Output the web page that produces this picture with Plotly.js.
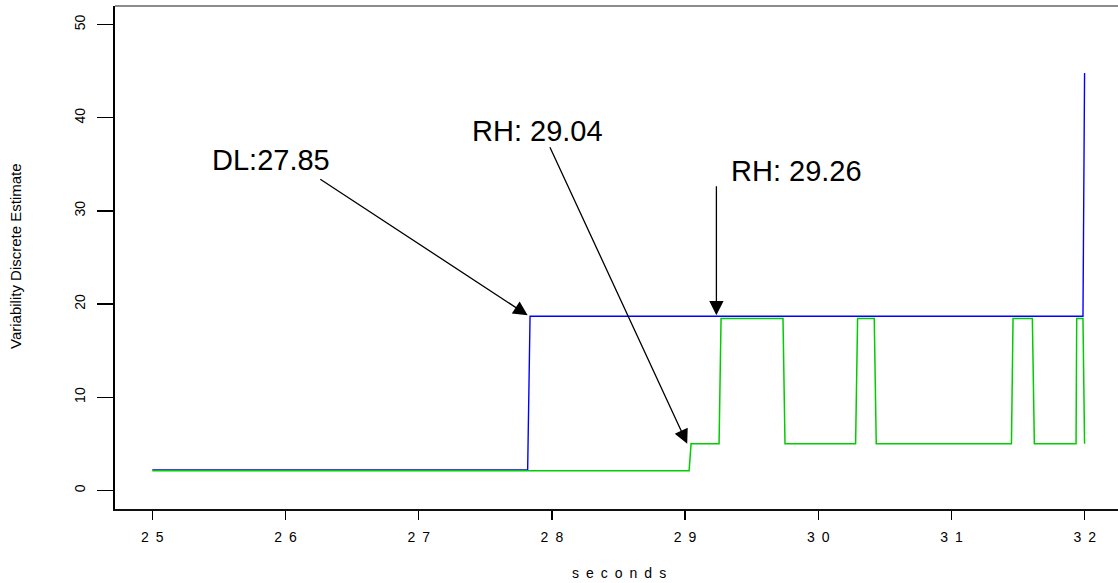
<!DOCTYPE html>
<html>
<head>
<meta charset="utf-8">
<script src="https://cdn.plot.ly/plotly-3.0.1.min.js"></script>
<style>
  html, body { margin: 0; padding: 0; overflow: hidden; background: #fff; }
  #chart { width: 1122px; height: 583px; }
</style>
</head>
<body>
<div id="chart"></div>
<script>
// Variability estimates over time (seconds)
const blueTime  = [25.0, 27.818, 27.836, 31.987, 31.999];
const blueValue = [2.2, 2.2, 18.7, 18.7, 44.8];

const greenTime  = [25.0, 29.03, 29.045, 29.255, 29.27, 29.735, 29.75, 30.28, 30.295,
                    30.42, 30.435, 31.45, 31.462, 31.607, 31.622, 31.935, 31.94, 31.987, 31.999];
const greenValue = [2.1, 2.1, 5.0, 5.0, 18.45, 18.45, 5.0, 5.0, 18.45,
                    18.45, 5.0, 5.0, 18.45, 18.45, 5.0, 5.0, 18.45, 18.45, 5.0];

const xTickVals = [25, 26, 27, 28, 29, 30, 31, 32];
const xTickText = ["2\u20025", "2\u20026", "2\u20027", "2\u20028", "2\u20029", "3\u20020", "3\u20021", "3\u20022"];
const yTickVals = [0, 10, 20, 30, 40, 50];

// Labelled change points: text, arrow tip, arrow tail, text position
const markLabels = ["DL:27.85", "RH: 29.04", "RH: 29.26"];
const markTipX   = [27.818, 29.016, 29.235];
const markTipY   = [18.8, 5.0, 18.8];
const markTailX  = [26.25, 27.98, 29.235];
const markTailY  = [33.5, 37.0, 32.8];
const markTextX  = [25.89, 27.89, 29.84];
const markTextY  = [35.5, 38.6, 34.3];

const font = "Liberation Sans, Arial, sans-serif";

const traces = [
  { x: blueTime, y: blueValue, type: "scatter", mode: "lines",
    line: { color: "#0000ff", width: 1.4 }, hoverinfo: "skip" },
  { x: greenTime, y: greenValue, type: "scatter", mode: "lines",
    line: { color: "#00cc00", width: 1.5 }, hoverinfo: "skip" }
];

const W = 1122, H = 583;
const margin = { l: 115, r: 0, t: 6, b: 74 };
const plotW = W - margin.l - margin.r;
const plotH = H - margin.t - margin.b;

const annotations = [];
markLabels.forEach((t, i) => {
  annotations.push({
    x: markTipX[i], y: markTipY[i], xref: "x", yref: "y",
    ax: markTailX[i], ay: markTailY[i], axref: "x", ayref: "y",
    text: "", showarrow: true, arrowhead: 2, arrowsize: 2.2, arrowwidth: 1.3,
    arrowcolor: "#000", standoff: 0, startstandoff: 0
  });
  annotations.push({
    x: markTextX[i], y: markTextY[i], xref: "x", yref: "y",
    text: t, showarrow: false, xanchor: "center", yanchor: "middle",
    font: { family: font, size: 29, color: "#000" }
  });
});

// axis titles, positioned by pixel
annotations.push({
  x: 0.5, y: (H - margin.b - 573) / plotH, xref: "paper", yref: "paper",
  text: "s\u2002e\u2002c\u2002o\u2002n\u2002d\u2002s",
  showarrow: false, font: { family: font, size: 14, color: "#000" },
  yanchor: "middle", xanchor: "center"
});
annotations.push({
  x: (15 - margin.l) / plotW, y: (H - margin.b - 256) / plotH, xref: "paper", yref: "paper",
  text: "Variability Discrete Estimate", textangle: -90,
  showarrow: false, font: { family: font, size: 15, color: "#000" },
  yanchor: "middle", xanchor: "center"
});

const layout = {
  width: W, height: H,
  margin: margin,
  paper_bgcolor: "#fff", plot_bgcolor: "#fff",
  showlegend: false,
  font: { family: font, size: 14, color: "#000" },
  xaxis: {
    range: [24.72, 32.28], tickvals: xTickVals, ticktext: xTickText,
    ticks: "outside", ticklen: 9, tickwidth: 1.3, tickcolor: "#000",
    showline: true, linecolor: "#111", linewidth: 1.5,
    showgrid: false, zeroline: false,
    tickfont: { family: font, size: 14, color: "#000" }, ticklabelstandoff: 6
  },
  yaxis: {
    range: [-2, 52], tickvals: yTickVals, tickangle: -90,
    ticks: "outside", ticklen: 16, tickwidth: 1.3, tickcolor: "#000",
    showline: true, linecolor: "#000", linewidth: 2,
    showgrid: false, zeroline: false,
    tickfont: { family: font, size: 14, color: "#000" }, ticklabelstandoff: 6
  },
  shapes: [
    { type: "line", xref: "paper", yref: "paper", x0: 0, x1: 1, y0: 1, y1: 1,
      line: { color: "#666", width: 1.5 } },
    { type: "line", xref: "paper", yref: "paper", x0: 1, x1: 1, y0: 0, y1: 1,
      line: { color: "#666", width: 1.5 } }
  ],
  annotations: annotations
};

Plotly.newPlot("chart", traces, layout, { staticPlot: true, displayModeBar: false });
</script>
</body>
</html>
